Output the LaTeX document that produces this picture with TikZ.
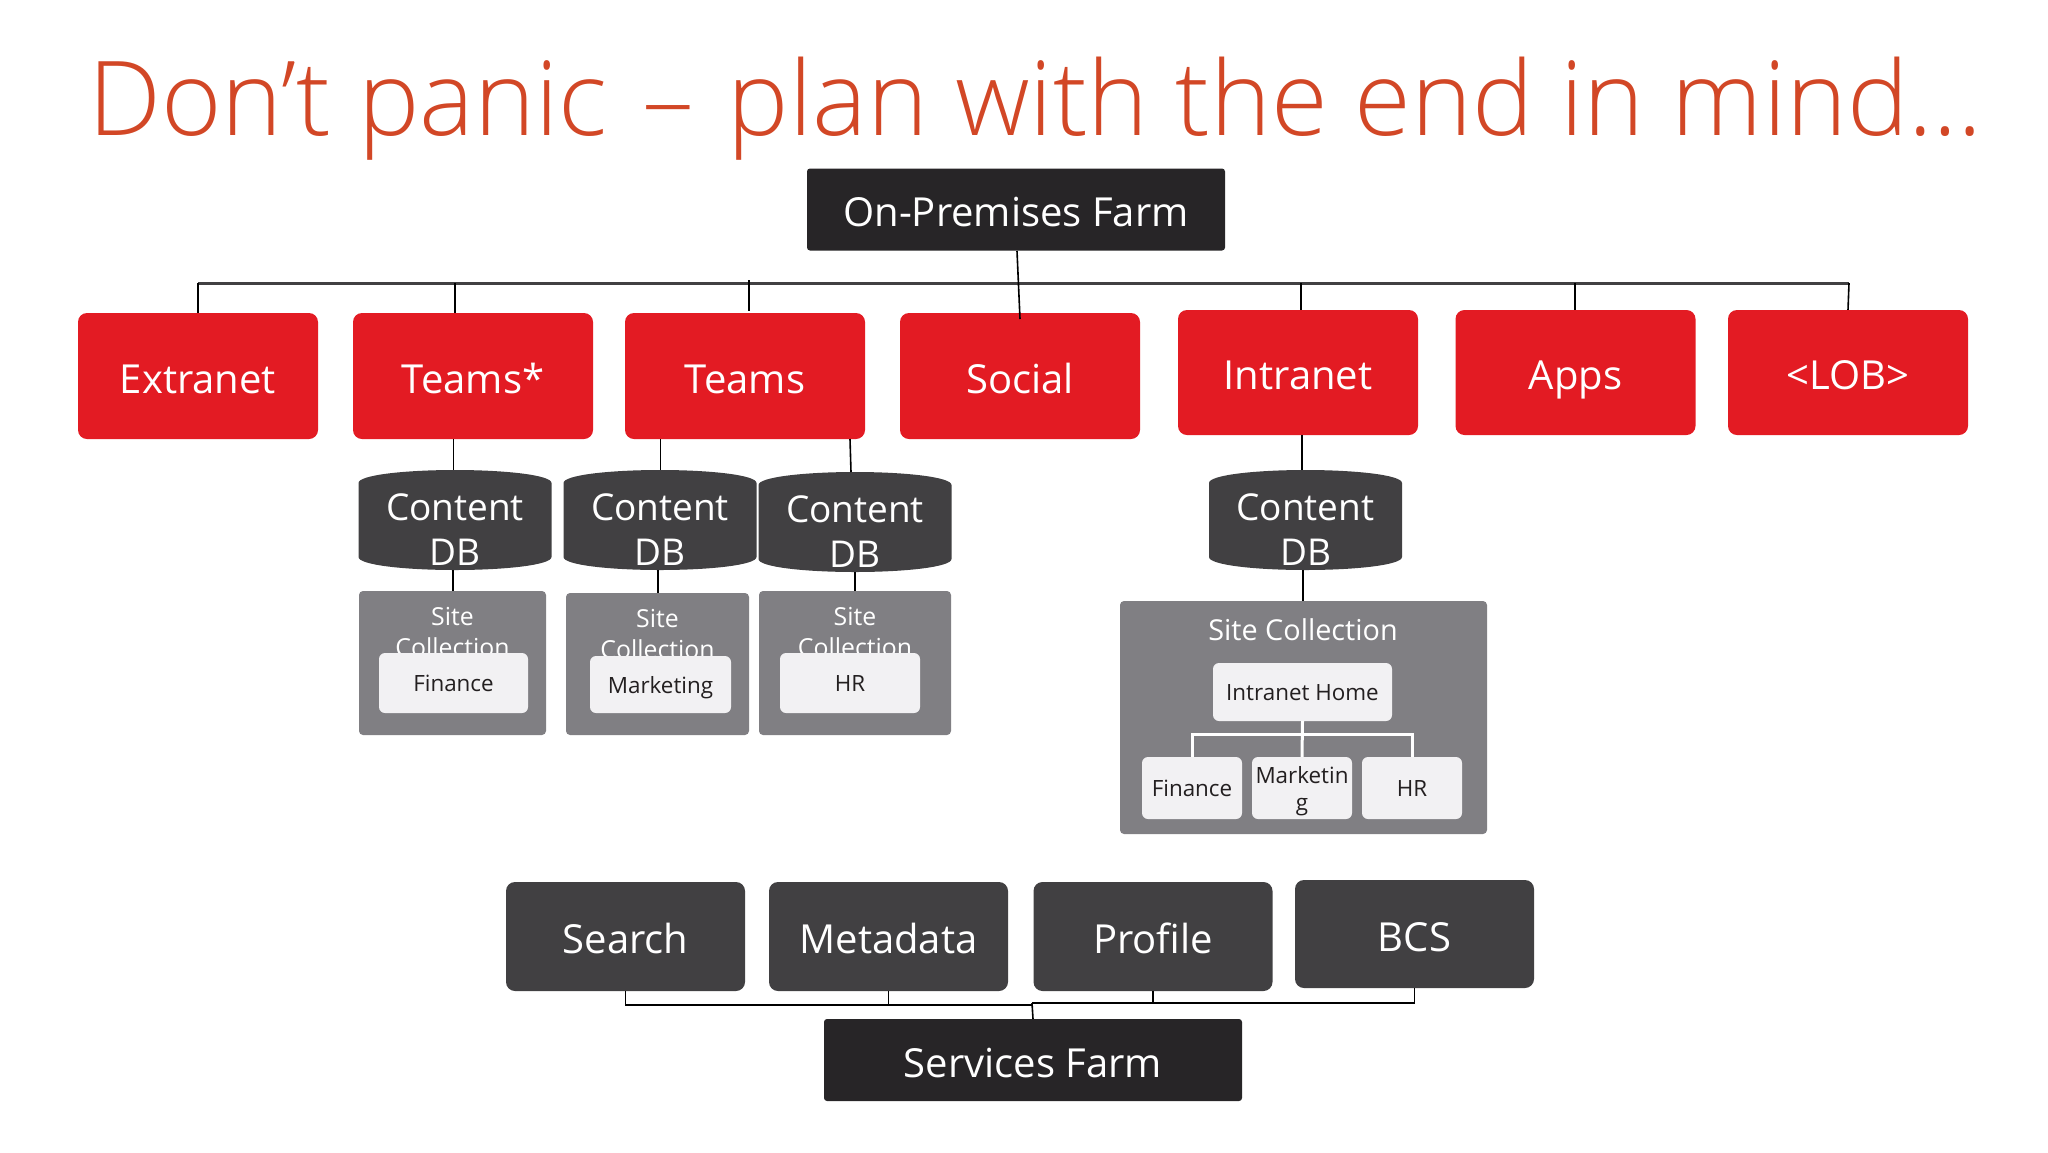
\documentclass[tikz,border=0pt]{standalone}
\usepackage{fontspec}
\setmainfont{Open Sans}
\newfontfamily\titlefont{Open Sans Light}
\definecolor{titlered}{HTML}{D24726}
\definecolor{boxred}{HTML}{E31B23}
\definecolor{darkbox}{HTML}{414042}
\definecolor{farmbox}{HTML}{272527}
\definecolor{sitegray}{HTML}{807F83}
\definecolor{pagebox}{HTML}{F2F1F3}
\definecolor{inktext}{HTML}{231F20}
\tikzset{
  boxlabel/.style={text=white, text height=34pt, text depth=0pt, font=\fontsize{40}{48}\selectfont},
  farm/.style={boxlabel, fill=farmbox, rounded corners=3pt, minimum width=418pt, minimum height=82pt},
  site/.style={boxlabel, fill=boxred, rounded corners=9pt, minimum width=240pt, minimum height=126pt},
  service/.style={boxlabel, fill=darkbox, rounded corners=9pt, minimum width=239pt, minimum height=109pt},
  dbase/.style={minimum width=193pt, minimum height=100pt, inner sep=0pt,
    path picture={\fill[darkbox, shift={(path picture bounding box.center)}]
      (-96.5,-37) .. controls (-96.5,-45) and (-50,-50) .. (0,-50) .. controls (50,-50) and (96.5,-45) .. (96.5,-37)
      -- (96.5,37) .. controls (96.5,45) and (50,50) .. (0,50) .. controls (-50,50) and (-96.5,45) .. (-96.5,37) -- cycle;}},
  dbtext/.style={text=white, align=center, inner sep=0pt, font=\fontsize{37}{45}\selectfont},
  collection/.style={fill=sitegray, rounded corners=4pt, inner sep=0pt},
  sctext/.style={text=white, align=center, inner sep=0pt, font=\fontsize{24.8}{31}\selectfont},
  sitepage/.style={fill=pagebox, text=inktext, rounded corners=6pt, inner sep=0pt, text height=17pt, text depth=0pt, font=\fontsize{22.4}{27}\selectfont},
  link/.style={draw=black, line width=1.6pt},
  whitelink/.style={draw=white, line width=3pt}
}
\begin{document}
\begin{tikzpicture}[x=1pt,y=-1pt]
\useasboundingbox (0,0) rectangle (2048,1152);
\node[anchor=base west, inner sep=0pt, text=titlered, font=\titlefont\fontsize{103.3}{120}\selectfont] (title) at (88,135) {Don’t panic {\kern8pt}–{\kern7pt} plan with the end in mind…};
% top row
\node[farm] (onprem) at (1016,209.5) {On-Premises Farm};
\node[site] (extranet) at (198,376) {Extranet};
\node[site] (teamsa) at (473,376) {Teams*};
\node[site] (teamsb) at (745,376) {Teams};
\node[site] (social) at (1020,376) {Social};
\node[site, minimum height=125pt] (intranet) at (1298,372.5) {Intranet};
\node[site, minimum height=125pt] (apps) at (1575.5,372.5) {Apps};
\node[site, minimum height=125pt] (lob) at (1848,372.5) {<LOB>};
\coordinate (barleft) at (198,283);
\coordinate (barright) at (1849,283);
\coordinate (tapteamsa) at (455,283);
\coordinate (tapteamsb) at (749,280);
\coordinate (tapintranet) at (1301,283);
\coordinate (tapapps) at (1575,283);
\draw[draw=darkbox, line width=3pt] (barleft) -- (barright);
\draw[link] (barleft) -- (extranet.north);
\draw[link] (tapteamsa) -- (tapteamsa |- teamsa.north);
\draw[link] (tapteamsb) -- (749,311);
\draw[link] (tapintranet) -- (tapintranet |- intranet.north);
\draw[link] (tapapps) -- (tapapps |- apps.north);
\draw[link] (barright) -- (lob.north);
\draw[link] (1017,251) -- (1020,319);
% content databases
\node[dbase] (dba) at (455,520) {};
\node[dbase] (dbb) at (660,520) {};
\node[dbase] (dbc) at (855,522) {};
\node[dbase] (dbd) at (1305.5,520) {};
\node[dbtext] (dbtexta) at (455,530) {Content\\DB};
\node[dbtext] (dbtextb) at (660,530) {Content\\DB};
\node[dbtext] (dbtextc) at (855,532) {Content\\DB};
\node[dbtext] (dbtextd) at (1305.5,530) {Content\\DB};
\draw[link] (453.5,439) -- (453.5,470);
\draw[link] (660.5,439) -- (660.5,470);
\draw[link] (850,439) -- (851,472);
\draw[link] (1302,435) -- (1302,470);
% site collections
\node[collection, minimum width=187pt, minimum height=144pt] (sca) at (452.5,663) {};
\node[collection, minimum width=183pt, minimum height=142pt] (scb) at (657.5,664) {};
\node[collection, minimum width=192pt, minimum height=144pt] (scc) at (855,663) {};
\node[collection, minimum width=367pt, minimum height=233pt] (scd) at (1303.5,717.5) {};
\node[sctext] (sctexta) at (452.5,632) {Site\\Collection};
\node[sctext] (sctextb) at (657.5,634) {Site\\Collection};
\node[sctext] (sctextc) at (855,632) {Site\\Collection};
\node[sctext, font=\fontsize{28.8}{34}\selectfont] (sctextd) at (1303,630) {Site Collection};
\draw[link] (453,570) -- (453,591);
\draw[link] (658,570) -- (658,593);
\draw[link] (855,572) -- (855,591);
\draw[link] (1303,570) -- (1303,601);
\node[sitepage, minimum width=149pt, minimum height=60pt] (pagea) at (453.5,683) {Finance};
\node[sitepage, minimum width=141pt, minimum height=57pt] (pageb) at (660.5,684.5) {Marketing};
\node[sitepage, minimum width=140pt, minimum height=60pt] (pagec) at (850,683) {HR};
% intranet pages
\node[sitepage, minimum width=179pt, minimum height=58pt] (home) at (1302.5,692) {Intranet Home};
\node[sitepage, minimum width=100pt, minimum height=62pt] (finance) at (1192,788) {Finance};
\node[sitepage, minimum width=100pt, minimum height=62pt] (marketing) at (1302,788) {};
\node[sitepage, minimum width=100pt, minimum height=62pt] (hr) at (1412,788) {HR};
\node[inner sep=0pt, align=center, text=inktext, font=\fontsize{22.4}{27}\selectfont] (marketingtext) at (1302,791) {Marketin\\g};
\coordinate (pagebar) at (1302,734);
\draw[whitelink] (home.south) -- (marketing.north);
\draw[whitelink] (finance.north) |- (pagebar);
\draw[whitelink] (hr.north) |- (pagebar);
% services
\node[service] (search) at (625.5,936.5) {Search};
\node[service] (metadata) at (888.5,936.5) {Metadata};
\node[service] (profile) at (1153,936.5) {Profile};
\node[service, minimum height=108pt] (bcs) at (1414.5,934) {BCS};
\node[farm] (services) at (1033,1060) {Services Farm};
\coordinate (servicebara) at (1032,1005);
\coordinate (servicebarb) at (1032,1003);
\draw[link] (search.south) |- (servicebara);
\draw[link] (metadata.south) |- (servicebara);
\draw[link] (services.north) -- (servicebarb);
\draw[link] (profile.south) |- (servicebarb);
\draw[link] (bcs.south) |- (servicebarb);
\end{tikzpicture}
\end{document}
